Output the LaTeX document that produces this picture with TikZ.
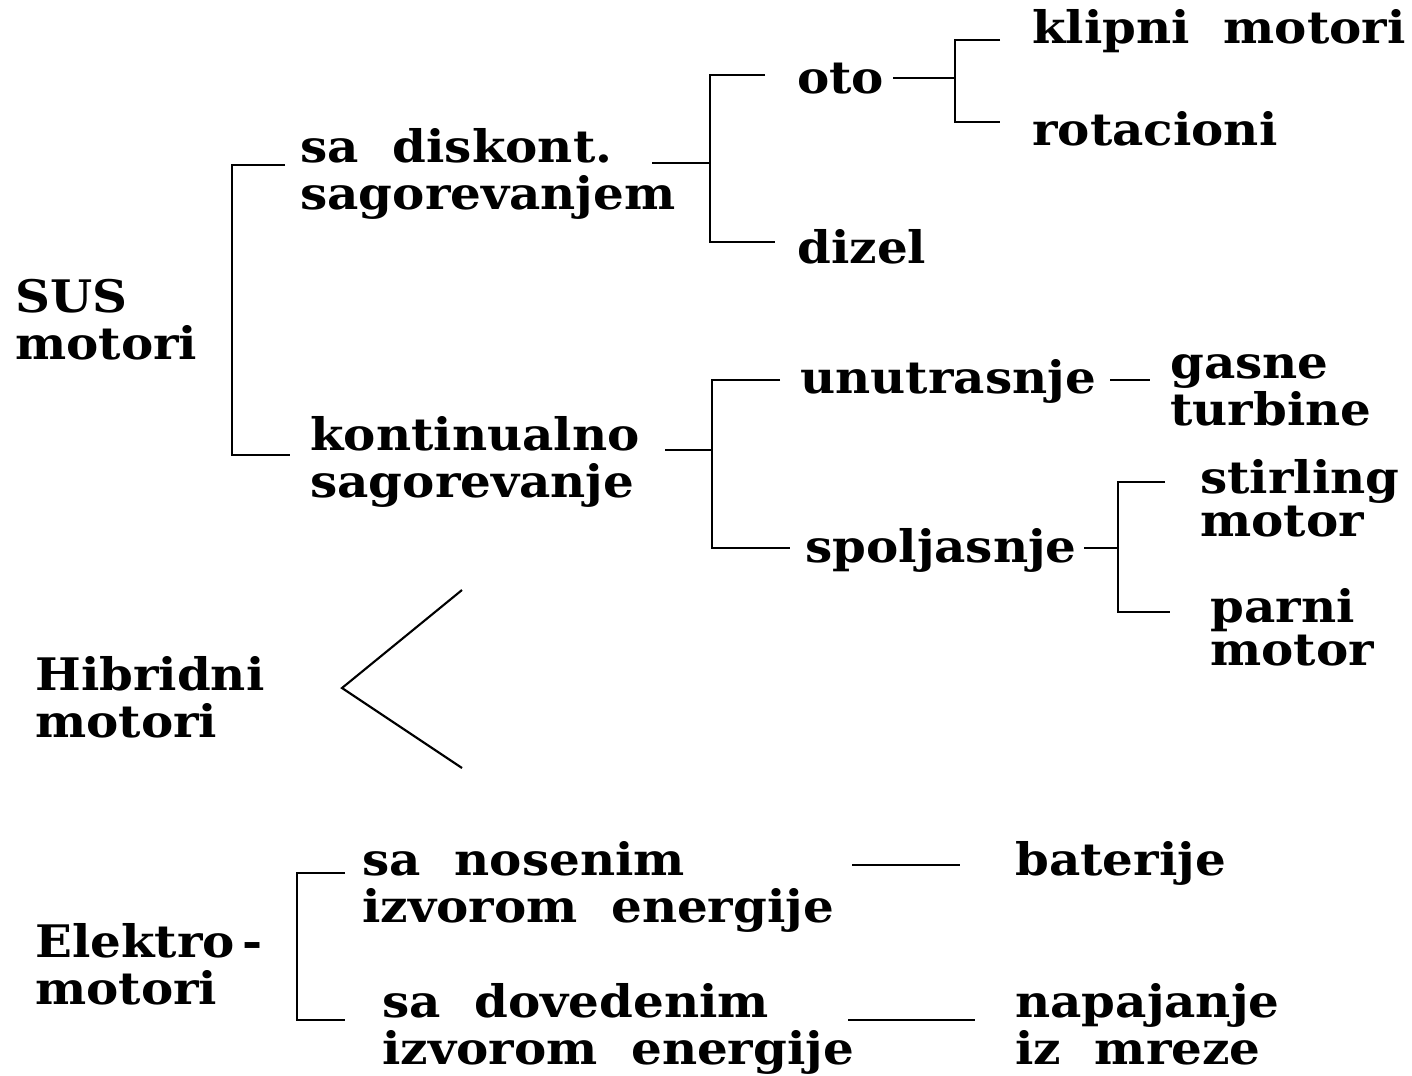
\documentclass[tikz,border=0pt]{standalone}
\usepackage{fontspec}
\setmainfont{DejaVu Serif}[FakeStretch=1.08]
\usetikzlibrary{calc}
\newcommand{\twoline}[2]{\begin{tabular}[t]{@{}l@{}}#1\\#2\end{tabular}}
\begin{document}
\begin{tikzpicture}[x=0.02cm,y=-0.02cm,
  lbl/.style={anchor=base west, inner sep=0pt, font=\fontsize{25.5}{25}\selectfont\bfseries},
  conn/.style={line width=1.2pt, line join=miter}]
\useasboundingbox (0,0) rectangle (1412,1075);

% ---- labels ----
\node[lbl] (sus)   at (15,312)   {\twoline{SUS}{motori}};
\node[lbl] (disk)  at (300,162)  {\twoline{sa\ \ diskont.}{sagorevanjem}};
\node[lbl] (kont)  at (310,450)  {\twoline{kontinualno}{sagorevanje}};
\node[lbl] (oto)   at (797,93)   {oto};
\node[lbl] (dizel) at (797,263)  {dizel};
\node[lbl] (klip)  at (1032,43)  {klipni\ \ motori};
\node[lbl] (rot)   at (1032,145) {rotacioni};
\node[lbl] (unut)  at (800,393)  {unutrasnje};
\node[lbl] (gas)   at (1170,378) {\twoline{gasne}{turbine}};
\node[lbl] (spol)  at (805,562)  {spoljasnje};
\node[lbl] (stir)  at (1200,493) {\twoline{stirling}{motor}};
\node[lbl] (parni) at (1210,622) {\twoline{parni}{motor}};
\node[lbl] (hib)   at (35,690)   {\twoline{Hibridni}{motori}};
\node[lbl] (elek)  at (35,957)   {\twoline{Elektro\,-}{motori}};
\node[lbl] (nos)   at (362,875)  {\twoline{sa\ \ nosenim}{izvorom\ \ energije}};
\node[lbl] (dov)   at (382,1017) {\twoline{sa\ \ dovedenim}{izvorom\ \ energije}};
\node[lbl] (bat)   at (1015,875) {baterije};
\node[lbl] (nap)   at (1015,1017){\twoline{napajanje}{iz\ \ mreze}};

% ---- junction points ----
\coordinate (j-sus)  at (232,300);
\coordinate (disk-o) at (652,163);
\coordinate (j-disk) at (710,163);
\coordinate (oto-o)  at (893,78);
\coordinate (j-oto)  at (955,78);
\coordinate (kont-o) at (665,450);
\coordinate (j-kont) at (712,450);
\coordinate (unut-o) at (1110,380);
\coordinate (gas-i)  at (1150,380);
\coordinate (spol-o) at (1084,548);
\coordinate (j-spol) at (1118,548);
\coordinate (j-elek) at (297,950);
\coordinate (nos-o)  at (852,865);
\coordinate (bat-i)  at (960,865);
\coordinate (dov-o)  at (848,1020);
\coordinate (nap-i)  at (975,1020);
\coordinate (hib-a)  at (342,688);
\coordinate (hib-u)  at (462,590);
\coordinate (hib-l)  at (462,768);

% ---- connectors ----
\draw[conn] ($(disk.base west)+(-15,3)$) -| (j-sus) |- ($(kont.base west)+(-20,5)$);
\draw[conn] (disk-o) -- (j-disk);
\draw[conn] ($(oto.base west)+(-32,-18)$) -| (j-disk) |- ($(dizel.base west)+(-22,-21)$);
\draw[conn] (oto-o) -- (j-oto);
\draw[conn] ($(klip.base west)+(-32,-3)$) -| (j-oto) |- ($(rot.base west)+(-32,-23)$);
\draw[conn] (kont-o) -- (j-kont);
\draw[conn] ($(unut.base west)+(-20,-13)$) -| (j-kont) |- ($(spol.base west)+(-15,-14)$);
\draw[conn] (unut-o) -- (gas-i);
\draw[conn] (spol-o) -- (j-spol);
\draw[conn] ($(stir.base west)+(-35,-11)$) -| (j-spol) |- ($(parni.base west)+(-40,-10)$);
\draw[conn] (hib-u) -- (hib-a) -- (hib-l);
\draw[conn] ($(nos.base west)+(-17,-2)$) -| (j-elek) |- ($(dov.base west)+(-37,3)$);
\draw[conn] (nos-o) -- (bat-i);
\draw[conn] (dov-o) -- (nap-i);
\end{tikzpicture}
\end{document}
